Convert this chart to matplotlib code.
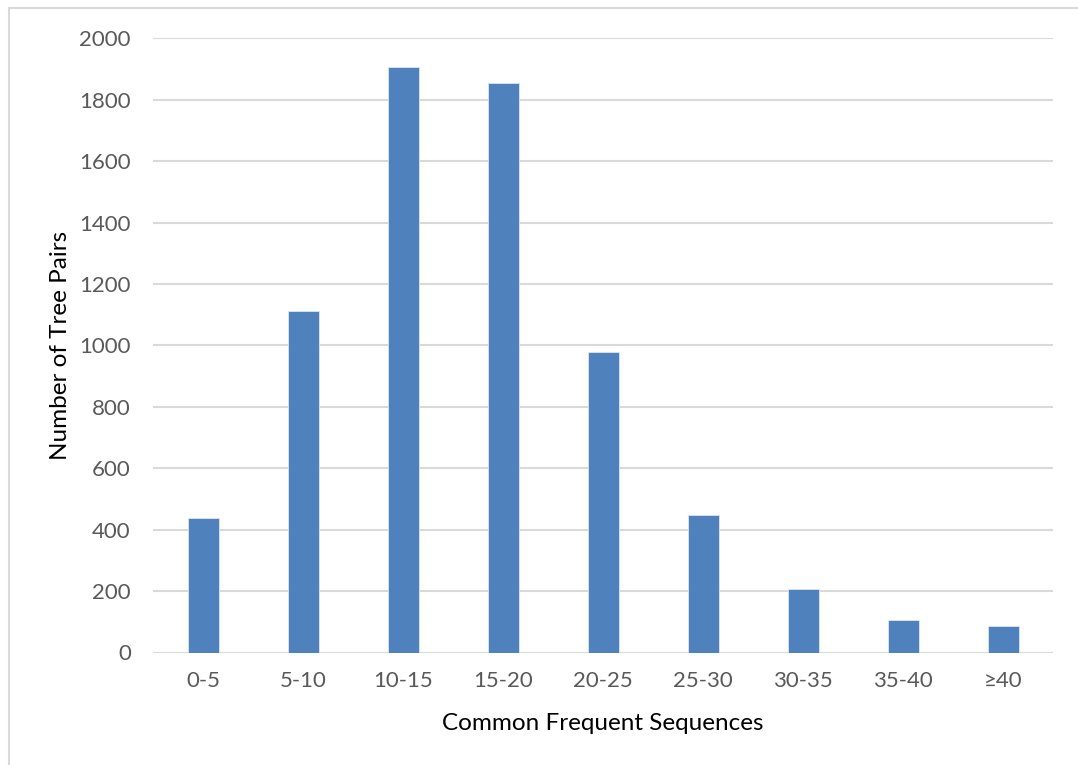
import matplotlib.pyplot as plt
from matplotlib.patches import Rectangle

categories = ['0-5', '5-10', '10-15', '15-20', '20-25', '25-30', '30-35', '35-40', '≥40']
tree_pairs = [437, 1113, 1907, 1855, 979, 447, 206, 105, 87]
y_ticks = [0, 200, 400, 600, 800, 1000, 1200, 1400, 1600, 1800, 2000]

plt.rcParams['font.family'] = ['Lato', 'DejaVu Sans']

fig = plt.figure(figsize=(10.78, 7.65), dpi=100)
ax = fig.add_axes([153 / 1078, 1 - 652.5 / 765, 900 / 1078, (652.5 - 38.3) / 765])

# chart area border, runs off the right and bottom edges
fig.patches.append(Rectangle((8.5 / 1078, -0.05), 1.2, 1 - 8.5 / 765 + 0.05,
                             transform=fig.transFigure, fill=False,
                             edgecolor='#d9d9d9', linewidth=1.5))

x = range(len(categories))
ax.bar(x, tree_pairs, width=0.31, color='#4f81bd', edgecolor='#dce6f2',
       linewidth=0.6, zorder=3)

ax.set_xlim(-0.5, len(categories) - 0.5)
ax.set_ylim(0, 2000)
ax.set_yticks(y_ticks)
ax.set_xticks(list(x))
ax.set_xticklabels(categories)
ax.grid(axis='y', color='#d9d9d9', linewidth=1.5, zorder=0)
for s in ax.spines.values():
    s.set_visible(False)
ax.tick_params(length=0, labelsize=16, labelcolor='#595959')
ax.tick_params(axis='y', pad=16)
ax.tick_params(axis='x', pad=13)

ax.set_xlabel('Common Frequent Sequences', fontsize=17.5, color='#000000', labelpad=16)
ax.set_ylabel('Number of Tree Pairs', fontsize=17.5, color='#000000', labelpad=6)

fig.savefig('out.png', dpi=100)
